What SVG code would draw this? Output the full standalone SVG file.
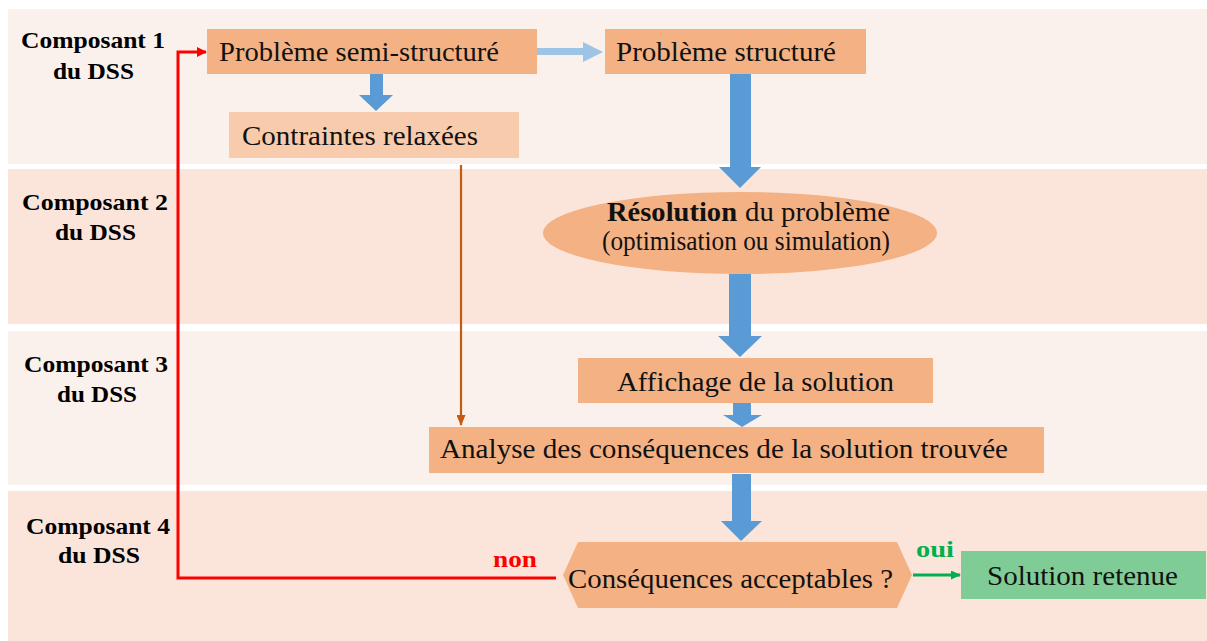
<svg xmlns="http://www.w3.org/2000/svg" width="1207" height="641" viewBox="0 0 1207 641">
<defs>
<style>
.lbl{font-family:"Liberation Serif","Times New Roman",serif;font-weight:bold;font-size:23px;fill:#000}
.t{font-family:"Liberation Serif","Times New Roman",serif;font-size:28px;fill:#111}
.box{fill:#F4B183}
.blue{fill:#5B9BD5}
</style>
<marker id="mRed" markerWidth="10" markerHeight="10" refX="9" refY="5" orient="auto" markerUnits="userSpaceOnUse"><path d="M0,0 L10,5 L0,10 Z" fill="#FF0000"/></marker>
<marker id="mGreen" markerWidth="10" markerHeight="9" refX="9" refY="4.5" orient="auto" markerUnits="userSpaceOnUse"><path d="M0,0 L10,4.5 L0,9 Z" fill="#00B050"/></marker>
<marker id="mBrown" markerWidth="11" markerHeight="9" refX="10" refY="4.5" orient="auto" markerUnits="userSpaceOnUse"><path d="M0,0 L11,4.5 L0,9 Z" fill="#C55A11"/></marker>
</defs>
<rect width="1207" height="641" fill="#FFFFFF"/>
<g id="bands">
<rect x="8" y="9" width="1199" height="155" fill="#FBF1EC"/>
<rect x="8" y="169" width="1199" height="155" fill="#FBE5DA"/>
<rect x="8" y="331" width="1199" height="154" fill="#FBF1EC"/>
<rect x="8" y="491" width="1199" height="150" fill="#FBE5DA"/>
</g>
<g id="lane-labels">
<text class="lbl" x="21" y="48" textLength="144" lengthAdjust="spacingAndGlyphs">Composant 1</text>
<text class="lbl" x="53" y="79" textLength="81" lengthAdjust="spacingAndGlyphs">du DSS</text>
<text class="lbl" x="22" y="210" textLength="146" lengthAdjust="spacingAndGlyphs">Composant 2</text>
<text class="lbl" x="55" y="240" textLength="81" lengthAdjust="spacingAndGlyphs">du DSS</text>
<text class="lbl" x="24" y="372" textLength="144" lengthAdjust="spacingAndGlyphs">Composant 3</text>
<text class="lbl" x="57" y="402" textLength="80" lengthAdjust="spacingAndGlyphs">du DSS</text>
<text class="lbl" x="26" y="534" textLength="144" lengthAdjust="spacingAndGlyphs">Composant 4</text>
<text class="lbl" x="58" y="563" textLength="82" lengthAdjust="spacingAndGlyphs">du DSS</text>
</g>
<g id="connectors">
<polygon class="blue" points="730,74 751,74 751,167 761,167 740,188 719,167 730,167"/>
<polygon class="blue" points="729,274 751,274 751,336 762,336 740,357 718,336 729,336"/>
<polygon class="blue" points="733,403 751,403 751,415 762,415 742,427 723,415 733,415"/>
<polygon class="blue" points="732,474 751,474 751,521 762,521 741,541 721,521 732,521"/>
<polygon class="blue" points="370,74 383,74 383,95 393,95 376,111 359,95 370,95"/>
<polygon fill="#9DC3E6" points="537,48 583,48 583,42 603,52 583,62 583,55 537,55"/>
<line x1="461" y1="165" x2="461" y2="425" stroke="#C55A11" stroke-width="2.2" marker-end="url(#mBrown)"/>
<path d="M556,578 H178 V52 H206" fill="none" stroke="#FF0000" stroke-width="3" marker-end="url(#mRed)"/>
<line x1="913" y1="575" x2="960" y2="575" stroke="#00B050" stroke-width="3" marker-end="url(#mGreen)"/>
<text x="493" y="567" font-family="Liberation Serif, serif" font-weight="bold" font-size="23" fill="#FF0000" textLength="44" lengthAdjust="spacingAndGlyphs">non</text>
<text x="916" y="557" font-family="Liberation Serif, serif" font-weight="bold" font-size="23" fill="#00B050" textLength="38" lengthAdjust="spacingAndGlyphs">oui</text>
</g>
<g id="n-semi">
<rect class="box" x="207" y="29" width="330" height="45"/>
<text class="t" x="219" y="61" textLength="280" lengthAdjust="spacingAndGlyphs">Problème semi-structuré</text>
</g>
<g id="n-struct">
<rect class="box" x="605" y="29" width="261" height="45"/>
<text class="t" x="616" y="61" textLength="220" lengthAdjust="spacingAndGlyphs">Problème structuré</text>
</g>
<g id="n-contraintes">
<rect x="229" y="112" width="290" height="46" fill="#F8CBAD"/>
<text class="t" x="242" y="145" textLength="236" lengthAdjust="spacingAndGlyphs">Contraintes relaxées</text>
</g>
<g id="n-resolution">
<ellipse cx="740" cy="233" rx="197" ry="41" fill="#F4B183"/>
<text class="t" x="607" y="221" font-size="26" font-weight="bold" textLength="130" lengthAdjust="spacingAndGlyphs">Résolution</text>
<text class="t" x="745" y="221" font-size="26" textLength="145" lengthAdjust="spacingAndGlyphs">du problème</text>
<text class="t" x="602" y="250" font-size="22" textLength="288" lengthAdjust="spacingAndGlyphs">(optimisation  ou simulation)</text>
</g>
<g id="n-affichage">
<rect class="box" x="578" y="358" width="355" height="45"/>
<text class="t" x="617" y="391" textLength="277" lengthAdjust="spacingAndGlyphs">Affichage de la solution</text>
</g>
<g id="n-analyse">
<rect class="box" x="429" y="427" width="615" height="46"/>
<text class="t" x="440" y="458" textLength="568" lengthAdjust="spacingAndGlyphs">Analyse des conséquences de la solution trouvée</text>
</g>
<g id="n-decision">
<polygon class="box" points="578,542 897,542 912,575 897,608 578,608 563,575"/>
<text class="t" x="568" y="588" textLength="325" lengthAdjust="spacingAndGlyphs">Conséquences acceptables ?</text>
</g>
<g id="n-retenue">
<rect x="961" y="551" width="245" height="48" fill="#80CC96"/>
<text class="t" x="987" y="585" textLength="191" lengthAdjust="spacingAndGlyphs">Solution retenue</text>
</g>
</svg>
